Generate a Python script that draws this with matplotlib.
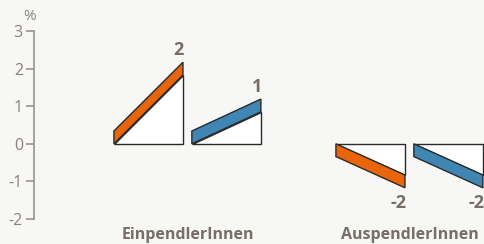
import matplotlib.pyplot as plt
from matplotlib.patches import Polygon

plt.rcParams['font.family'] = ['Open Sans', 'DejaVu Sans']

# data
groups = ["EinpendlerInnen", "AuspendlerInnen"]
series_colors = ["#e8650c", "#3f86b5"]
# height of each slope (top of the coloured band), per group, per series
values = [[2.17, 1.19], [-1.17, -1.17]]
value_labels = [["2", "1"], ["-2", "-2"]]
yticks = [-2, -1, 0, 1, 2, 3]

bg = "#f7f7f5"
grey = "#9b928c"
text_grey = "#776e68"

fig = plt.figure(figsize=(4.84, 2.44), dpi=100, facecolor=bg)
ax = fig.add_axes([34 / 484, 25 / 244, 450 / 484, 188 / 244])
ax.set_facecolor(bg)
ax.set_xlim(-0.691, 1.336)
ax.set_ylim(-2, 3)

band = 0.34
w = 0.311
gap = 0.02

for gi, g in enumerate(groups):
    for si, v in enumerate(values[gi]):
        if si == 0:
            x0, x1 = gi - gap - w, gi - gap
        else:
            x0, x1 = gi + gap, gi + gap + w
        s = 1 if v >= 0 else -1
        tri = Polygon([(x0, 0), (x1, 0), (x1, v - s * band)], closed=True,
                      facecolor="white", edgecolor="#2a2a2a", lw=1.0,
                      clip_on=False, zorder=2)
        ax.add_patch(tri)
        bnd = Polygon([(x0, 0), (x0, s * band), (x1, v), (x1, v - s * band)],
                      closed=True, facecolor=series_colors[si],
                      edgecolor="#2a2a2a", lw=1.0, clip_on=False, zorder=3)
        ax.add_patch(bnd)
        off = 12 if s > 0 else -15
        dx = 0.018 if s > 0 else 0.03
        ax.annotate(value_labels[gi][si], (x1 - dx, v), xytext=(0, off),
                    textcoords="offset pixels", ha="center", va="center",
                    fontsize=13, fontweight="bold", color=text_grey,
                    annotation_clip=False)
    ax.text(gi, -2.42, g, ha="center", va="center", fontsize=11.5,
            fontweight="bold", color=text_grey, clip_on=False)

for sp in ["top", "right", "bottom"]:
    ax.spines[sp].set_visible(False)
ax.spines["left"].set_color(grey)
ax.spines["left"].set_linewidth(1.2)
ax.set_xticks([])
ax.set_yticks(yticks)
ax.set_yticklabels([str(t) for t in yticks])
ax.tick_params(axis="y", length=6, width=1.2, color=grey, labelcolor="#8a817b",
               labelsize=11.5, pad=2)
ax.text(-0.009, 3.38, "%", transform=ax.get_yaxis_transform(), ha="center",
        va="center", fontsize=11, color="#8a817b", clip_on=False)

fig.savefig("out.png", dpi=100, facecolor=bg)
